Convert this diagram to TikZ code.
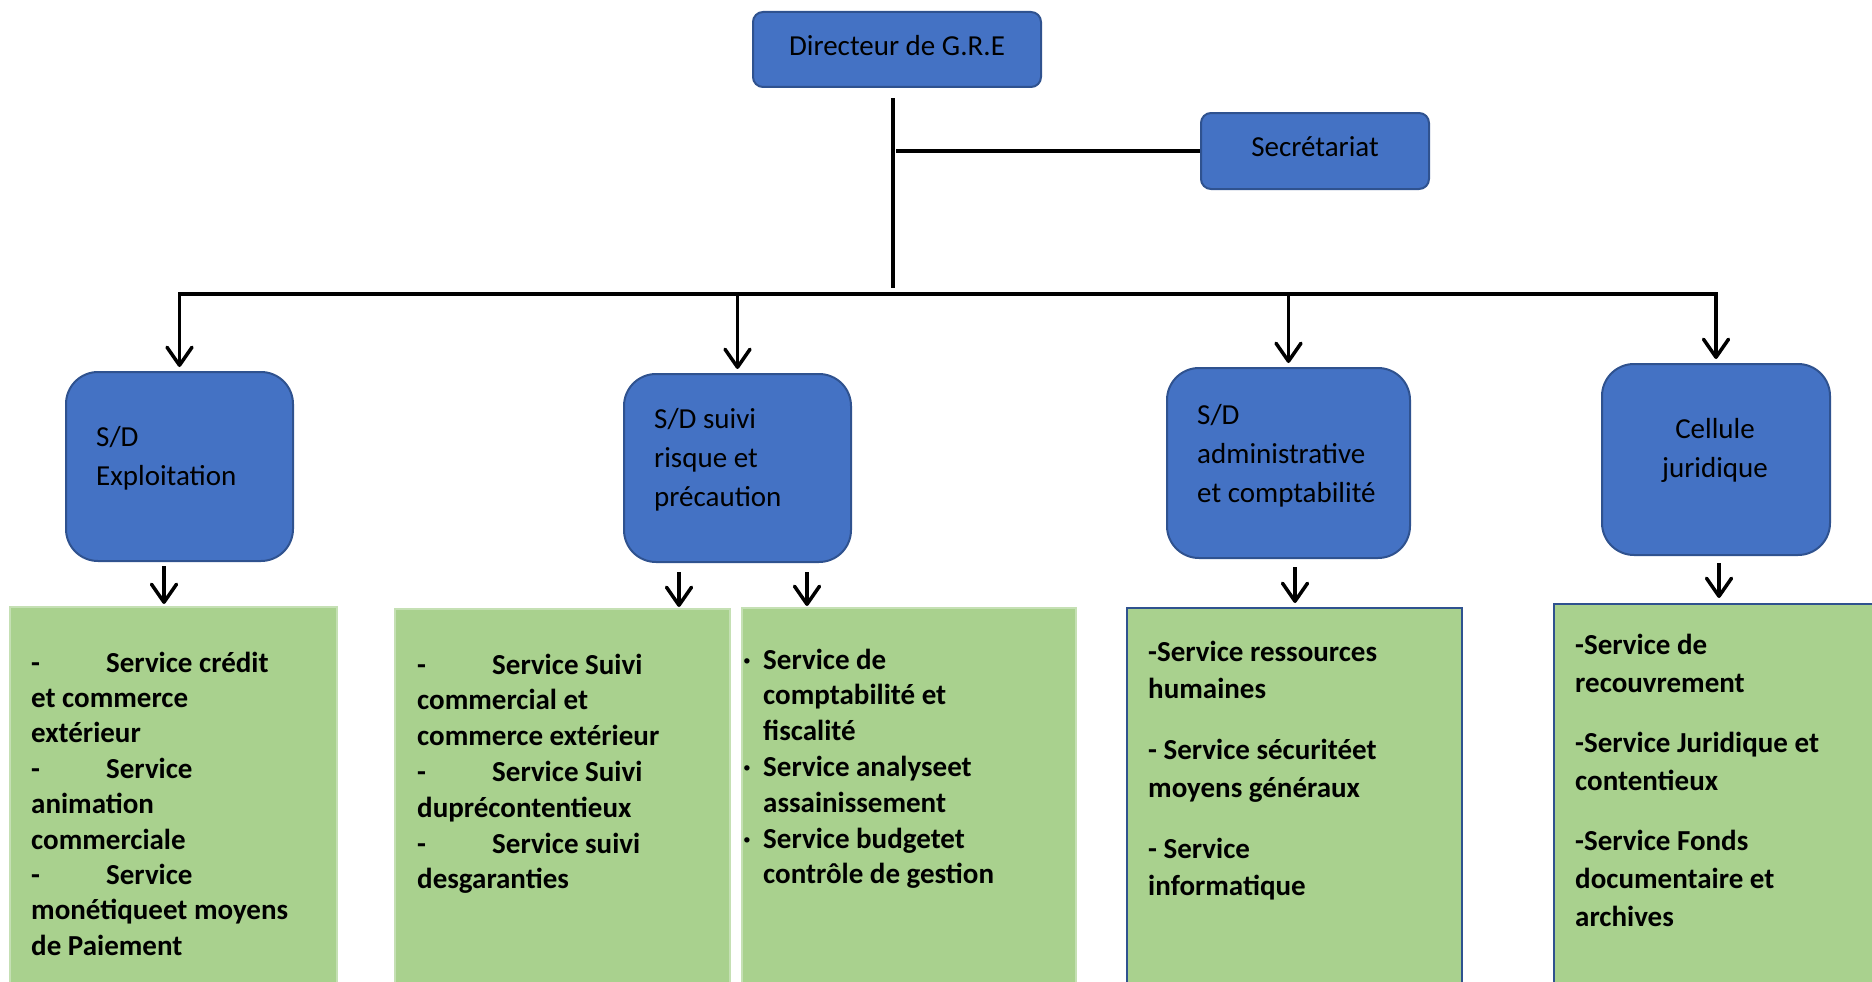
\documentclass[tikz,border=0pt]{standalone}
\usepackage{fontspec}
\setmainfont{Carlito}
\usetikzlibrary{arrows.meta,calc}
\definecolor{boxblue}{HTML}{4472C4}
\definecolor{boxedge}{HTML}{2F528F}
\definecolor{svcgreen}{HTML}{A9D18E}
\definecolor{svcedge}{HTML}{C5E0B4}
% stacked lines: first argument is the line pitch, the first baseline is the node base
\newcommand\lns[2]{\vtop{\baselineskip=#1\relax\lineskiplimit=-100pt #2}}
\newcommand\tabdash{\makebox[75pt][l]{-}}
\newcommand\dotmark{\makebox[20pt][l]{·}}
\begin{document}
\begin{tikzpicture}[x=1pt,y=-1pt,
  unit/.style={draw=boxedge,line width=2pt,fill=boxblue,rounded corners=10pt,inner sep=0pt,
    font=\fontsize{29}{35}\selectfont},
  sub/.style={draw=boxedge,line width=2pt,fill=boxblue,rounded corners=32pt,inner sep=0pt},
  svc/.style={fill=svcgreen,draw=svcedge,line width=2pt,inner sep=0pt,anchor=north west},
  svcb/.style={svc,draw=boxedge},
  lbl/.style={inner sep=0pt,anchor=base west,font=\fontsize{29}{39}\selectfont},
  lst/.style={inner sep=0pt,anchor=base west,font=\fontsize{29}{36}\selectfont\bfseries},
  link/.style={line width=3.5pt},
  arr/.style={line width=3.5pt,-{Straight Barb[length=18pt,width=25pt,round]}}]
\useasboundingbox (0,0) rectangle (1872,982);

% top level
\node[unit,minimum width=288pt,minimum height=75pt,text height=19pt,text depth=7pt]
  (dir) at (897,49.5) {Directeur de G.R.E};
\node[unit,minimum width=228pt,minimum height=76pt,text height=19pt,text depth=9pt]
  (sec) at (1315,151) {Secrétariat};

% sub-directorates
\node[sub,minimum width=227pt,minimum height=189pt] (exp) at (179.5,466.5) {};
\node[sub,minimum width=227pt,minimum height=188pt] (sui) at (737.5,468) {};
\node[sub,minimum width=243pt,minimum height=190pt] (adm) at (1288.5,463) {};
\node[sub,minimum width=228pt,minimum height=191pt] (cel) at (1716,459.5) {};

\node[lbl] (expT) at (96,446) {\lns{39pt}{\hbox{S/D}\hbox{Exploitation}}};
\node[lbl] (suiT) at (654,428) {\lns{39pt}{\hbox{S/D suivi}\hbox{risque et}\hbox{précaution}}};
\node[lbl] (admT) at (1197,424) {\lns{39pt}{\hbox{S/D}\hbox{administrative}\hbox{et comptabilité}}};
\node[lbl,anchor=base] (celT) at (1715,438)
  {\lns{39pt}{\hbox to 200pt{\hfil Cellule\hfil}\hbox to 200pt{\hfil juridique\hfil}}};

% service boxes
\node[svc,minimum width=327pt,minimum height=390pt] (g1) at (9,606) {};
\node[svc,minimum width=335pt,minimum height=390pt] (g2) at (394,608) {};
\node[svc,minimum width=334pt,minimum height=390pt] (g3) at (741,607) {};
\node[svcb,minimum width=335pt,minimum height=390pt] (g4) at (1126,607) {};
\node[svcb,minimum width=340pt,minimum height=395pt] (g5) at (1553,603) {};

\node[lst] (g1T) at (31,672) {\lns{35.4pt}{%
  \hbox{\tabdash Service crédit}\hbox{et commerce}\hbox{extérieur}%
  \hbox{\tabdash Service}\hbox{animation}\hbox{commerciale}%
  \hbox{\tabdash Service}\hbox{monétiqueet moyens}\hbox{de Paiement}}};
\node[lst] (g2T) at (417,674) {\lns{35.8pt}{%
  \hbox{\tabdash Service Suivi}\hbox{commercial et}\hbox{commerce extérieur}%
  \hbox{\tabdash Service Suivi}\hbox{duprécontentieux}%
  \hbox{\tabdash Service suivi}\hbox{desgaranties}}};
\node[lst] (g3T) at (743,669) {\lns{35.8pt}{%
  \hbox{\dotmark Service de}\hbox{\hspace{20pt}comptabilité et}\hbox{\hspace{20pt}fiscalité}%
  \hbox{\dotmark Service analyseet}\hbox{\hspace{20pt}assainissement}%
  \hbox{\dotmark Service budgetet}\hbox{\hspace{20pt}contrôle de gestion}}};
\node[lst] (g4T) at (1148,661) {\lns{37.5pt}{%
  \hbox{-Service ressources}\hbox{humaines}\vskip 23.5pt
  \hbox{- Service sécuritéet}\hbox{moyens généraux}\vskip 23.5pt
  \hbox{- Service}\hbox{informatique}}};
\node[lst] (g5T) at (1575,654) {\lns{38pt}{%
  \hbox{-Service de}\hbox{recouvrement}\vskip 22pt
  \hbox{-Service Juridique et}\hbox{contentieux}\vskip 22pt
  \hbox{-Service Fonds}\hbox{documentaire et}\hbox{archives}}};

% trunk, secretariat branch and distribution bus
\coordinate (hub) at (893,294);
\draw[link] ([yshift=-10pt]dir.south -| hub) -- ([yshift=6pt]hub);
\draw[link,shorten >=3pt] (sec.west) -- (sec.west -| hub);
\draw[link,line width=4pt,line cap=rect] (exp.north |- hub) -- (cel.north |- hub);

\foreach \b in {exp,sui,adm,cel}
  \draw[arr,shorten >=4pt] (\b.north |- hub) -- (\b.north);

% arrows down to the services
\draw[arr,shorten <=4pt,shorten >=2pt] ([xshift=-15.5pt]exp.south) -- ([xshift=-15.5pt]exp.south |- g1.north);
\draw[arr,shorten <=9pt,shorten >=1pt] ([xshift=-58.5pt]sui.south) -- ([xshift=-58.5pt]sui.south |- g2.north);
\draw[arr,shorten <=9pt,shorten >=1pt] ([xshift=69.5pt]sui.south) -- ([xshift=69.5pt]sui.south |- g3.north);
\draw[arr,shorten <=8pt,shorten >=4pt] ([xshift=6.5pt]adm.south) -- ([xshift=6.5pt]adm.south |- g4.north);
\draw[arr,shorten <=7pt,shorten >=5pt] ([xshift=3pt]cel.south) -- ([xshift=3pt]cel.south |- g5.north);
\end{tikzpicture}
\end{document}
